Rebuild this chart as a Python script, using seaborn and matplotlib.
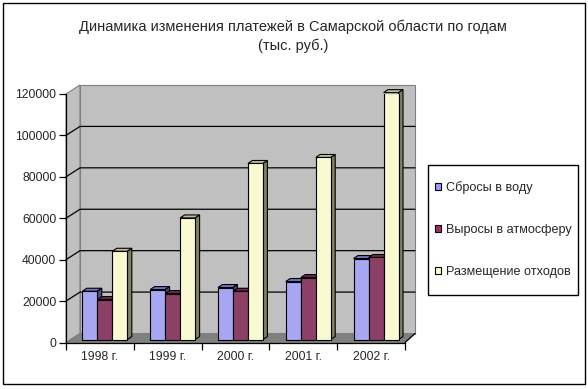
import numpy as np
import pandas as pd
import matplotlib.pyplot as plt
import seaborn as sns
from matplotlib.patches import Polygon, Patch, Rectangle
from matplotlib.lines import Line2D
from matplotlib.transforms import IdentityTransform, ScaledTranslation
from matplotlib.colors import to_rgb

sns.set_style("white")
plt.rcParams["font.family"] = ["Liberation Sans", "DejaVu Sans"]

# ---------- data (тыс. руб.) ----------
years = ["1998 г.", "1999 г.", "2000 г.", "2001 г.", "2002 г."]
water = [23300, 24100, 25100, 28000, 39100]
air = [19300, 22200, 23300, 29900, 39600]
waste = [42600, 58700, 85000, 87900, 119200]
series = ["Сбросы в воду", "Выросы в атмосферу", "Размещение отходов"]
colors = ["#9999FF", "#993366", "#FFFFCC"]

df = pd.DataFrame({
    "year": years * 3,
    "value": water + air + waste,
    "series": [series[0]] * 5 + [series[1]] * 5 + [series[2]] * 5,
})

DPI = 100
fig = plt.figure(figsize=(5.88, 3.89), dpi=DPI)
ax = fig.add_axes([66 / 588, 1 - 342.5 / 389, 339 / 588, 248.5 / 389])
ax.patch.set_visible(False)

sns.barplot(data=df, x="year", y="value", hue="series", palette=colors,
            width=0.664, edgecolor="black", linewidth=0.8, ax=ax, legend=False)
bars = list(ax.patches)

ax.set_xlim(-0.5, 4.5)
ax.set_ylim(0, 120000)
ax.set_yticks(range(0, 120001, 20000))
ax.set_xlabel("")
ax.set_ylabel("")

# ---------- pseudo 3D walls (display coords) ----------
P = lambda x, y: np.array(ax.transData.transform((x, y)))
offL = np.array([14, 9])
offR = np.array([10, 9])
FL0, FL1, FR0 = P(-0.5, 0), P(-0.5, 120000), P(4.5, 0)
BL0, BL1, BR0 = FL0 + offL, FL1 + offL, FR0 + offR
BR1 = np.array([BR0[0], BL1[1]])
ident = IdentityTransform()

def poly(pts, fc, ec, z, lw=0.8):
    ax.add_patch(Polygon(pts, closed=True, facecolor=fc, edgecolor=ec, lw=lw,
                         transform=ident, clip_on=False, zorder=z))

poly([FL0, FL1, BL1, BL0], "#C0C0C0", "#808080", 0.1)
poly([BL0, BR0, BR1, BL1], "#C0C0C0", "#808080", 0.1)
poly([FL0, FR0, BR0, BL0], "#808080", "#808080", 0.15)

for t in range(20000, 120000, 20000):
    a = P(-0.5, t)
    b = a + offL
    ax.add_line(Line2D([a[0], b[0], BR0[0]], [a[1], b[1], b[1]], color="black",
                       lw=0.9, transform=ident, clip_on=False, zorder=0.2))
ax.add_line(Line2D([FR0[0], BR0[0]], [FR0[1], BR0[1]], color="black", lw=0.9,
                   transform=ident, clip_on=False, zorder=3))

# ---------- 3D bars ----------
shift = ScaledTranslation(5 / DPI, 3 / DPI, fig.dpi_scale_trans)
depth = np.array([4.4, 3.0])
for i, bar in enumerate(bars):
    k = i // len(years)
    z = 1 + k * 0.1
    bar.set_transform(ax.transData + shift)
    bar.set_zorder(z)
    x0, y0 = bar.get_x(), bar.get_y()
    x1, y1 = x0 + bar.get_width(), y0 + bar.get_height()
    s = np.array([5, 3])
    a, b, c = P(x0, y1) + s, P(x1, y1) + s, P(x1, y0) + s
    base = np.array(to_rgb(colors[k]))
    poly([a, b, b + depth, a + depth], tuple(base * 0.75), "black", z - 0.01)
    poly([c, b, b + depth, c + depth], tuple(base * 0.5), "black", z - 0.01)

# ---------- axes styling ----------
for sp in ["top", "right"]:
    ax.spines[sp].set_visible(False)
for sp in ["left", "bottom"]:
    ax.spines[sp].set_color("black")
    ax.spines[sp].set_linewidth(0.9)
    ax.spines[sp].set_zorder(3)
ax.tick_params(axis="y", direction="out", length=5, width=0.9, color="black",
               labelsize=8.7, pad=2, left=True)
ax.tick_params(axis="x", which="major", length=0, labelsize=8.7, pad=6)
ax.set_xticks(np.arange(-0.5, 5, 1), minor=True)
ax.tick_params(axis="x", which="minor", direction="out", length=5, width=0.9,
               color="black", bottom=True)
ax.set_yticklabels([str(v) for v in range(0, 120001, 20000)])

# ---------- legend ----------
fig.add_artist(Rectangle((428 / 588, 1 - 295 / 389), 150 / 588, 130 / 389,
                         transform=fig.transFigure, fill=False, edgecolor="black", lw=1))
handles = [Patch(facecolor=c, edgecolor="black", lw=0.8) for c in colors]
fig.legend(handles, series, loc="center left",
           bbox_to_anchor=(435 / 588, 1 - 229.5 / 389), fontsize=9.1,
           frameon=False, handlelength=0.5, handleheight=0.5, handletextpad=0.35,
           labelspacing=2.35, borderpad=0, borderaxespad=0)

# ---------- title + border ----------
fig.text(293 / 588, 1 - 27 / 389, "Динамика изменения платежей в Самарской области по годам",
         ha="center", va="center", fontsize=10.5)
fig.text(293 / 588, 1 - 46 / 389, "(тыс. руб.)", ha="center", va="center", fontsize=10.5)
fig.add_artist(Rectangle((3 / 588, 1 - 384 / 389), 582 / 588, 381 / 389,
                         transform=fig.transFigure, fill=False, edgecolor="black", lw=1))

fig.savefig("out.png", dpi=DPI)
